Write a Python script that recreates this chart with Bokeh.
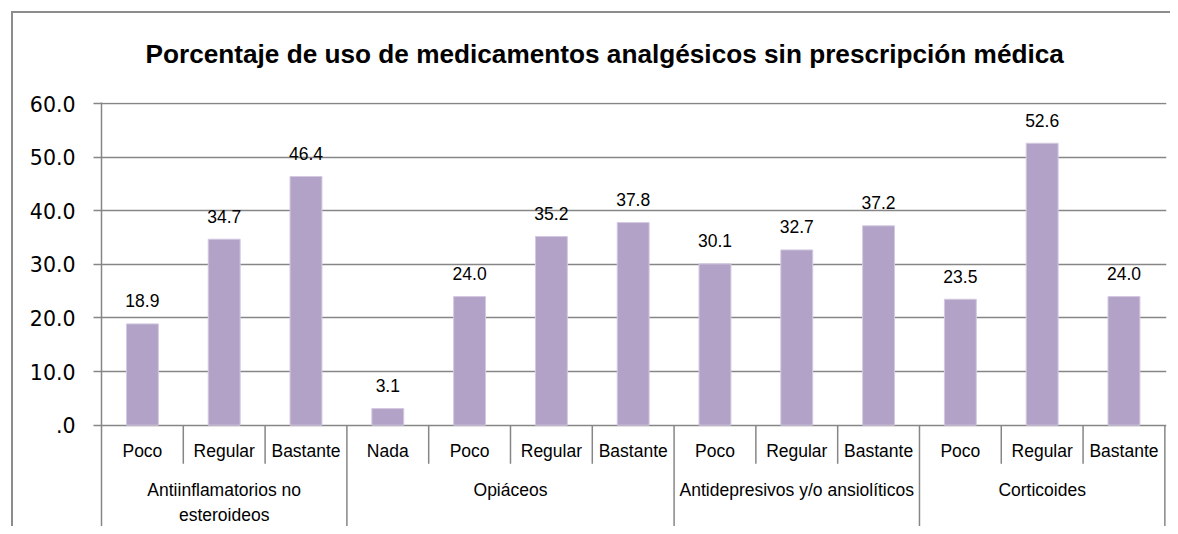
from bokeh.plotting import figure
from bokeh.models import FixedTicker, NumeralTickFormatter, ColumnDataSource, Range1d
from bokeh.core.properties import value
from bokeh.embed import file_html
from bokeh.resources import INLINE

# ---- data ----
title = "Porcentaje de uso de medicamentos analgésicos sin prescripción médica"
groups = ["Antiinflamatorios no\nesteroideos", "Opiáceos",
          "Antidepresivos y/o ansiolíticos", "Corticoides"]
levels = [["Poco", "Regular", "Bastante"],
          ["Nada", "Poco", "Regular", "Bastante"],
          ["Poco", "Regular", "Bastante"],
          ["Poco", "Regular", "Bastante"]]
values = [18.9, 34.7, 46.4,
          3.1, 24.0, 35.2, 37.8,
          30.1, 32.7, 37.2,
          23.5, 52.6, 24.0]
y_ticks = [0, 10, 20, 30, 40, 50, 60]

# ---- derived positions ----
sub_labels = [s for g in levels for s in g]
n = len(sub_labels)
xc = [i + 0.5 for i in range(n)]
bounds = [0]
for g in levels:
    bounds.append(bounds[-1] + len(g))
group_centers = [(bounds[i] + bounds[i + 1]) / 2 for i in range(len(groups))]
line1 = [g.split("\n")[0] for g in groups]
line2 = [g.split("\n")[1] if "\n" in g else "" for g in groups]
short_x = [i for i in range(1, n) if i not in bounds]
long_x = bounds[1:]

Y0, YTOP = -18.9, 60.2
GRID = "#868686"
BAR = "#b3a2c7"

p = figure(width=1170, height=526,
           x_range=Range1d(0, 13.02), y_range=Range1d(Y0, YTOP),
           x_axis_location=None, output_backend="svg", toolbar_location=None,
           min_border_left=101, min_border_top=102, min_border_right=4,
           min_border_bottom=0)
p.styles = {"box-shadow": "inset 11px 11px 0 0 #ffffff, inset 13px 13px 0 0 #8c8c8c"}
p.outline_line_color = None
p.background_fill_color = "white"
p.border_fill_color = None

# title
p.title.text = title
p.title.align = "left"
p.title.offset = 44
p.title.standoff = 68
p.title.text_font = "Liberation Sans"
p.title.text_font_style = "bold"
p.title.text_font_size = "26.2px"
p.title.text_color = "black"

# grid
p.xgrid.visible = False
p.ygrid.ticker = FixedTicker(ticks=y_ticks)
p.ygrid.grid_line_color = GRID
p.ygrid.grid_line_width = 1.5

# y axis
ax = p.yaxis[0]
ax.ticker = FixedTicker(ticks=y_ticks)
ax.formatter = NumeralTickFormatter(format="0.0")
ax.major_label_overrides = {0: ".0"}
ax.axis_line_color = GRID
ax.axis_line_width = 1.5
ax.major_tick_line_color = GRID
ax.major_tick_line_width = 1.5
ax.major_tick_out = 8
ax.major_tick_in = 0
ax.minor_tick_line_color = None
ax.major_label_text_font = "DejaVu Sans"
ax.major_label_text_font_size = "20.5px"
ax.major_label_text_color = "black"
ax.major_label_standoff = 18

# bars
src = ColumnDataSource(dict(x=xc, top=values,
                            lab=[f"{v:.1f}" for v in values], sub=sub_labels))
p.vbar(x="x", top="top", width=0.39, bottom=0, source=src,
       fill_color=BAR, line_color="#d3c9e0", line_width=1)

# data labels
p.text(x="x", y="top", text="lab", source=src, y_offset=-23,
       text_align="center", text_baseline="alphabetic",
       text_font=value("Liberation Sans"), text_font_size="17.5px",
       text_color="black")

# category separators
p.segment(x0=short_x, y0=[0] * len(short_x), x1=short_x, y1=[-7.2] * len(short_x),
          line_color=GRID, line_width=1.5)
p.segment(x0=long_x, y0=[0] * len(long_x), x1=long_x, y1=[Y0] * len(long_x),
          line_color=GRID, line_width=1.5)

# category labels
txt = dict(text_align="center", text_baseline="alphabetic",
           text_font=value("Liberation Sans"), text_font_size="17.5px",
           text_color="black")
p.text(x="x", y=-4.8, text="sub", source=src, **txt)
gsrc = ColumnDataSource(dict(x=group_centers, l1=line1, l2=line2))
p.text(x="x", y=-12.1, text="l1", source=gsrc, **txt)
p.text(x="x", y=-16.7, text="l2", source=gsrc, **txt)

open("out.html", "w").write(file_html(p, INLINE))
